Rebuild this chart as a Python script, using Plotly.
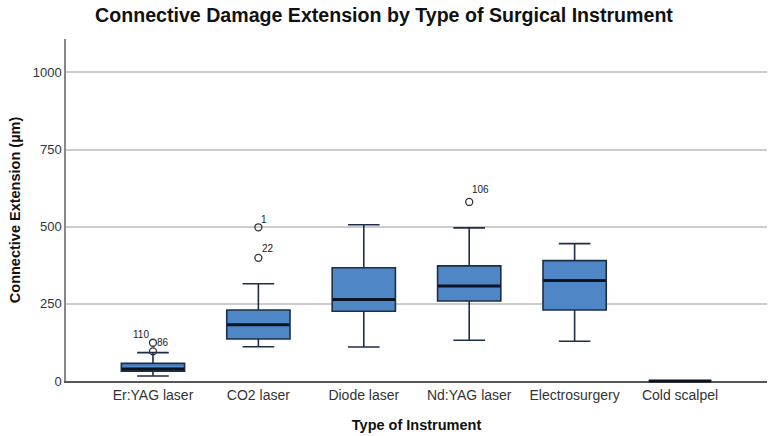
import plotly.graph_objects as go

categories = ["Er:YAG laser", "CO2 laser", "Diode laser", "Nd:YAG laser", "Electrosurgery", "Cold scalpel"]
lower_whisker = [16, 111, 110, 132, 129, 0]
q1 = [32, 136, 226, 259, 230, 0]
median = [39, 182, 264, 308, 326, 0]
q3 = [57, 230, 367, 373, 390, 0]
upper_whisker = [92, 315, 506, 496, 445, 0]

outlier_cat = ["Er:YAG laser", "Er:YAG laser", "CO2 laser", "CO2 laser", "Nd:YAG laser"]
outlier_val = [124, 96, 498, 399, 580]
outlier_id = ["86", "110", "1", "22", "106"]
label_shift = [(10, 0), (-12, 17), (6, 8), (10, 9), (11, 12)]

y_ticks = [0, 250, 500, 750, 1000]

FONT = "Liberation Sans, Arial, sans-serif"
BOX_W = 0.6

pos = list(range(len(categories)))
idx = {c: i for i, c in enumerate(categories)}

fig = go.Figure()
fig.add_trace(go.Box(
    x=pos, q1=q1, median=median, q3=q3,
    lowerfence=lower_whisker, upperfence=upper_whisker,
    width=BOX_W, whiskerwidth=0.5,
    fillcolor="#4f86c6",
    line=dict(color="#1d2f47", width=1.6),
    boxpoints=False, showlegend=False, hoverinfo="skip",
))
# thick median lines (horizontal line markers, not clipped at the axis)
fig.add_trace(go.Scatter(
    x=pos, y=median, mode="markers", cliponaxis=False,
    marker=dict(symbol="line-ew", size=44.5, color="#0b1320",
                line=dict(color="#0b1320", width=3)),
    showlegend=False, hoverinfo="skip",
))
fig.add_trace(go.Scatter(
    x=[idx[c] for c in outlier_cat], y=outlier_val, mode="markers",
    marker=dict(symbol="circle-open", size=7, color="#333333", line=dict(width=1.3)),
    showlegend=False, hoverinfo="skip",
))

for c, v, t, (dx, dy) in zip(outlier_cat, outlier_val, outlier_id, label_shift):
    fig.add_annotation(x=idx[c], y=v, xref="x", yref="y", text=t, showarrow=False,
                       xshift=dx, yshift=dy, xanchor="center", yanchor="middle",
                       font=dict(family=FONT, size=10, color="#222222"))

fig.update_layout(
    width=773, height=436,
    margin=dict(l=66, r=6, t=39, b=55),
    paper_bgcolor="white", plot_bgcolor="white",
    title=dict(text="<b>Connective Damage Extension by Type of Surgical Instrument</b>",
               x=384 / 773, xref="container", y=1 - 15 / 436, yref="container",
               xanchor="center", yanchor="middle",
               font=dict(family=FONT, size=19.6, color="#111111")),
    font=dict(family=FONT, size=13, color="#333333"),
)
fig.update_xaxes(
    range=[-0.825, 5.825], tickmode="array", tickvals=pos, ticktext=categories,
    showline=True, linecolor="#555555", linewidth=1.5, layer="below traces",
    showgrid=False, ticks="", zeroline=False,
    tickfont=dict(family=FONT, size=14, color="#333333"),
    title=dict(text="<b>Type of Instrument</b>", standoff=18,
               font=dict(family=FONT, size=14.5, color="#111111")),
)
fig.update_yaxes(
    range=[0, 1108], tickvals=y_ticks,
    showline=True, linecolor="#888888", linewidth=1.5, layer="below traces",
    showgrid=True, gridcolor="#cccccc", gridwidth=1.5,
    zeroline=False, ticks="",
    tickfont=dict(family=FONT, size=13, color="#333333"),
    title=dict(text="<b>Connective Extension (µm)</b>", standoff=9,
               font=dict(family=FONT, size=14.5, color="#111111")),
)

fig.write_html("out.html", config={"displayModeBar": False},
               post_script="document.body.style.margin='0';")
